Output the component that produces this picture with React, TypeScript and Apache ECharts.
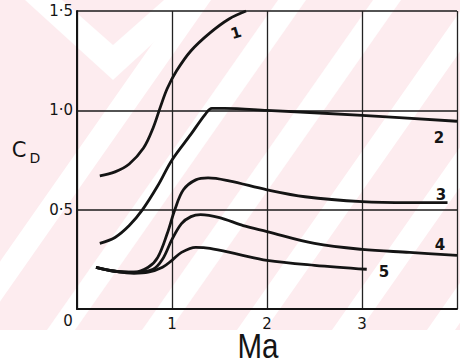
import React, { useEffect, useRef } from 'react';
import * as echarts from 'echarts';

const xTickValues = [0, 1, 2, 3, 4];
const yTickValues = [0, 0.5, 1.0, 1.5];
const xLabelText = ['0', '1', '2', '3', ''];
const yLabelText = ['0', '0·5', '1·0', '1·5'];

const curve1: number[][] = [
  [0.24, 0.67], [0.4, 0.69], [0.55, 0.73], [0.7, 0.81], [0.8, 0.91], [0.88, 1.02],
  [0.95, 1.11], [1.05, 1.2], [1.2, 1.3], [1.4, 1.39], [1.6, 1.46], [1.78, 1.5],
];
const curve2: number[][] = [
  [0.24, 0.33], [0.4, 0.36], [0.55, 0.42], [0.69, 0.5], [0.85, 0.62], [1.0, 0.75],
  [1.2, 0.88], [1.35, 0.98], [1.42, 1.01], [1.55, 1.01], [2.0, 1.0], [3.0, 0.975], [4.0, 0.945],
];
const curve3: number[][] = [
  [0.2, 0.21], [0.4, 0.19], [0.6, 0.185], [0.75, 0.21], [0.85, 0.26], [0.95, 0.38],
  [1.03, 0.5], [1.12, 0.6], [1.25, 0.65], [1.38, 0.66], [1.6, 0.645], [2.0, 0.6],
  [2.4, 0.565], [3.0, 0.54], [3.5, 0.535], [3.9, 0.535],
];
const curve4: number[][] = [
  [0.2, 0.21], [0.4, 0.19], [0.6, 0.185], [0.8, 0.2], [0.9, 0.25], [1.0, 0.35],
  [1.1, 0.43], [1.2, 0.465], [1.3, 0.475], [1.5, 0.46], [1.75, 0.42], [2.0, 0.39],
  [2.5, 0.33], [3.0, 0.3], [3.5, 0.285], [4.0, 0.27],
];
const curve5: number[][] = [
  [0.2, 0.21], [0.4, 0.19], [0.6, 0.18], [0.75, 0.185], [0.9, 0.21], [1.0, 0.245],
  [1.1, 0.285], [1.25, 0.31], [1.4, 0.305], [1.7, 0.275], [2.0, 0.245], [2.5, 0.22], [3.05, 0.2],
];
const curves = [curve1, curve2, curve3, curve4, curve5];
const curveNames = ['1', '2', '3', '4', '5'];
const axisTitleY = 'C';
const axisTitleYSub = 'D';
const axisTitleX = 'Ma';

const INK = '#141414';
const PINK = '#fdecef';
const FONT = 'DejaVu Sans';

function buildGraphic() {
  const els: any[] = [];
  els.push({ type: 'rect', z: -100, silent: true, shape: { x: 0, y: 0, width: 460, height: 330 }, style: { fill: PINK } });
  // watermark stripes
  const intercepts = [-48, 47, 142, 237, 332, 427];
  intercepts.forEach((b) => {
    els.push({
      type: 'polygon', z: -99, silent: true,
      shape: { points: [[b, 330], [b + 28, 330], [b + 28 + 231, 0], [b + 231, 0]] },
      style: { fill: '#ffffff' },
    });
  });
  els.push({ type: 'polygon', z: -98, silent: true, shape: { points: [[25, 0], [200, 0], [113, 80]] }, style: { fill: '#ffffff' } });
  els.push({ type: 'polygon', z: -97, silent: true, shape: { points: [[62, 0], [164, 0], [113, 45]] }, style: { fill: PINK } });

  // axis titles
  els.push({ type: 'text', x: 19, y: 150, style: { text: axisTitleY, fontSize: 21, fontFamily: FONT, fill: INK, align: 'center', verticalAlign: 'middle' } });
  els.push({ type: 'text', x: 35, y: 158, style: { text: axisTitleYSub, fontSize: 14, fontFamily: FONT, fill: INK, align: 'center', verticalAlign: 'middle' } });
  els.push({ type: 'text', x: 258, y: 345, scaleX: 0.82, style: { text: axisTitleX, fontSize: 36, fontFamily: 'Liberation Sans', fill: INK, align: 'center', verticalAlign: 'middle' } });
  els.push({ type: 'text', x: 68, y: 321, style: { text: xLabelText[0], fontSize: 15, fontFamily: FONT, fill: INK, align: 'center', verticalAlign: 'middle' } });

  // curve labels
  const lab = (t: string, x: number, y: number, rot = 0) => ({
    type: 'text', x, y, rotation: rot,
    style: { text: t, fontSize: 15, fontFamily: FONT, fill: INK, align: 'center', verticalAlign: 'middle', fontWeight: 'bold' },
  });
  els.push(lab(curveNames[0], 236, 33, 0.3));
  els.push(lab(curveNames[1], 439, 138));
  els.push(lab(curveNames[2], 441, 195));
  els.push(lab(curveNames[3], 440, 245));
  els.push(lab(curveNames[4], 384, 272));
  return els;
}

export default function App() {
  const ref = useRef<HTMLDivElement>(null);
  useEffect(() => {
    if (!ref.current) return;
    const chart = echarts.init(ref.current, null, { renderer: 'svg' });
    chart.setOption({
      animation: false,
      backgroundColor: '#ffffff',
      grid: { left: 77, top: 11, width: 384, height: 298, containLabel: false },
      xAxis: {
        type: 'value', min: xTickValues[0], max: xTickValues[xTickValues.length - 1], interval: 1,
        axisLine: { show: true, lineStyle: { color: INK, width: 2 } },
        axisTick: { show: false },
        splitLine: { show: true, lineStyle: { color: '#222', width: 1.3 } },
        axisLabel: {
          margin: 7, fontSize: 15, color: INK, fontFamily: FONT,
          formatter: (v: number) => (v === 0 ? '' : xLabelText[xTickValues.indexOf(v)] ?? ''),
        },
      },
      yAxis: {
        type: 'value', min: yTickValues[0], max: yTickValues[yTickValues.length - 1], interval: 0.5,
        axisLine: { show: true, lineStyle: { color: INK, width: 2 } },
        axisTick: { show: false },
        splitLine: { show: true, lineStyle: { color: '#1a1a1a', width: 1.5 } },
        axisLabel: {
          margin: 4, fontSize: 15, color: INK, fontFamily: FONT,
          formatter: (v: number) => {
            if (v === 0) return '';
            const i = yTickValues.findIndex((t) => Math.abs(t - v) < 1e-6);
            return i >= 0 ? yLabelText[i] : '';
          },
        },
      },
      series: curves.map((c, i) => ({
        type: 'line', name: curveNames[i], data: c, showSymbol: false, smooth: 0.35,
        clip: true, lineStyle: { color: INK, width: 2.8 }, z: 5,
      })),
      graphic: buildGraphic(),
    });
    return () => chart.dispose();
  }, []);
  return <div ref={ref} style={{ position: 'absolute', left: 0, top: 0, width: 460, height: 364 }} />;
}
